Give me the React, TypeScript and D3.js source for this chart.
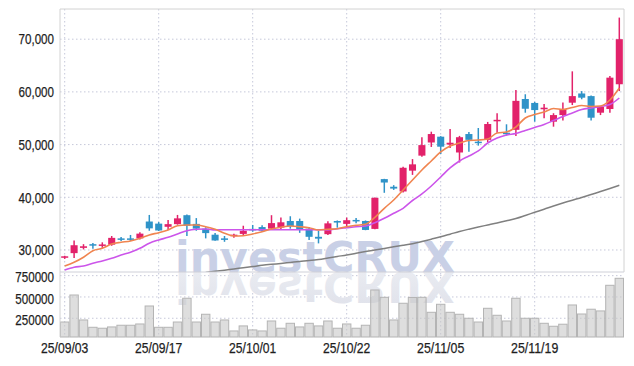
import React from 'react';
import * as d3 from 'd3';

const DATES = [
  '25/09/03', '25/09/04', '25/09/05', '25/09/08', '25/09/09', '25/09/10', '25/09/11', '25/09/12', '25/09/15', '25/09/16',
  '25/09/17', '25/09/18', '25/09/19', '25/09/22', '25/09/23', '25/09/24', '25/09/25', '25/09/26', '25/09/29', '25/09/30',
  '25/10/01', '25/10/02', '25/10/10', '25/10/13', '25/10/14', '25/10/15', '25/10/16', '25/10/17', '25/10/20', '25/10/21',
  '25/10/22', '25/10/23', '25/10/24', '25/10/27', '25/10/28', '25/10/29', '25/10/30', '25/10/31', '25/11/03', '25/11/04',
  '25/11/05', '25/11/06', '25/11/07', '25/11/10', '25/11/11', '25/11/12', '25/11/13', '25/11/14', '25/11/17', '25/11/18',
  '25/11/19', '25/11/20', '25/11/21', '25/11/24', '25/11/25', '25/11/26', '25/11/27', '25/11/28', '25/12/01', '25/12/02',
];

const OPEN = [
  28600, 29400, 30400, 31100, 30850, 31000, 32200, 32200, 32200, 35400,
  35000, 34400, 34900, 36600, 34950, 34050, 32900, 32200, 32650, 33050,
  34000, 34350, 34050, 34250, 35500, 35500, 34050, 32500, 33000, 35500,
  34950, 35700, 35500, 34000, 43450, 42000, 41100, 45050, 47900, 50400,
  51500, 50000, 48500, 52000, 50550, 50900, 54500, 52250, 52800, 58650,
  57900, 56700, 54350, 55600, 57950, 59700, 59200, 56050, 56750, 61450,
];
const HIGH = [
  28900, 31800, 31100, 31300, 31450, 32650, 32450, 32850, 33350, 36650,
  35300, 35700, 36650, 36750, 36050, 34300, 33200, 32650, 33100, 34600,
  34750, 34700, 36600, 36150, 36400, 35950, 34350, 33650, 35450, 35600,
  36150, 36050, 35600, 39950, 43500, 42300, 45800, 47250, 51400, 52450,
  51600, 52950, 51650, 52400, 53150, 54300, 55950, 53850, 60350, 59550,
  58100, 57700, 55950, 58000, 63900, 60150, 59300, 57300, 63000, 74100,
];
const LOW = [
  28300, 28500, 30100, 30250, 30400, 30800, 31700, 31700, 32000, 33650,
  33600, 33800, 34800, 32650, 33650, 32200, 31750, 31550, 32330, 32650,
  33450, 33450, 33800, 33900, 34040, 33250, 31900, 31250, 32850, 34230,
  34400, 35050, 33750, 33950, 40850, 41400, 40900, 44250, 47700, 49550,
  48200, 49350, 46600, 48650, 49800, 50450, 52250, 51700, 51650, 56050,
  54350, 55000, 53400, 54550, 57500, 58600, 54550, 55600, 56050, 60150,
];
const CLOSE = [
  28800, 30900, 30700, 30850, 31050, 32300, 31950, 32050, 33100, 34100,
  33700, 34900, 36000, 34600, 34050, 33200, 31800, 31950, 32900, 33650,
  33800, 33650, 35100, 35250, 34500, 33800, 32500, 32150, 35050, 35200,
  35650, 35500, 33800, 39900, 42800, 41650, 45600, 46250, 49900, 52000,
  49600, 50350, 51400, 50900, 50400, 53900, 54700, 52000, 58300, 56800,
  56550, 57000, 55600, 56700, 59200, 58900, 55100, 57200, 62700, 70000,
];
const VOLUME = [
  206000, 523000, 230000, 144000, 133000, 148000, 168000, 168000, 183000, 394000,
  144000, 144000, 206000, 485000, 206000, 297000, 206000, 230000, 101000, 160000,
  113000, 101000, 218000, 133000, 191000, 148000, 191000, 160000, 218000, 133000,
  183000, 133000, 168000, 582000, 496000, 230000, 426000, 494000, 496000, 320000,
  414000, 320000, 297000, 250000, 206000, 367000, 285000, 218000, 485000, 250000,
  250000, 191000, 156000, 180000, 406000, 300000, 356000, 336000, 637000, 719000,
];

const MA5 = [
  26960, 27670, 28620, 29870, 30320, 31140, 31460, 31710, 32220, 32850,
  33280, 33800, 34610, 34740, 34740, 34420, 33930, 33170, 32660, 32710,
  33040, 33470, 33990, 34310, 34550, 34420, 34230, 33800, 33930, 34040,
  34420, 34690, 34880, 36200, 37910, 39490, 41390, 43280, 45180, 46890,
  48600, 49730, 50300, 50780, 50870, 51060, 52200, 52390, 53340, 55050,
  55710, 56190, 56850, 56660, 57040, 57420, 57230, 57320, 58460, 60740,
];
const MA10 = [
  26200, 26720, 26960, 27480, 27910, 28420, 29050, 29560, 30320, 31270,
  31900, 32410, 33040, 33660, 33930, 33990, 33800, 33850, 33850, 33850,
  33850, 33850, 33850, 33850, 33850, 33850, 33850, 33850, 33800, 34040,
  34230, 34420, 34550, 35180, 36010, 36960, 37910, 39390, 40630, 42140,
  43850, 45560, 46890, 47840, 48790, 50300, 51250, 51820, 52110, 52680,
  53240, 53810, 54570, 55330, 56000, 56660, 56950, 57230, 57610, 58840,
];
const MA60: (number | null)[] = [
  null, null, null, null, null, null, null, null, null, null,
  null, null, null, null, null, 25730, 25960, 26170, 26400, 26620,
  26850, 27080, 27270, 27440, 27630, 27820, 27990, 28200, 28480, 28770,
  29050, 29370, 29700, 30000, 30300, 30610, 30890, 31200, 31610, 32050,
  32500, 33000, 33510, 33950, 34360, 34740, 35120, 35540, 35980, 36550,
  37150, 37740, 38350, 38920, 39450, 39960, 40530, 41080, 41670, 42280,
];

const PRICE_TICKS = [30000, 40000, 50000, 60000, 70000];
const VOLUME_TICKS = [250000, 500000, 750000];
const DATE_TICKS = ['25/09/03', '25/09/17', '25/10/01', '25/10/22', '25/11/05', '25/11/19'];

const W = 634;
const H = 366;
const LEFT = 60;
const RIGHT = 624;
const TOP = 9;
const SPLIT = 272;
const BOTTOM = 337;

const UP = '#e2226a';
const DOWN = '#2f93c8';
const FONT = "'Liberation Sans', Arial, sans-serif";
const GRID = '#c6c8da';

// narrow look: squeeze Liberation Sans to the label widths seen in the chart
const narrow = (s: string) => s.length * 6.45 - (s.match(/[,/]/g)?.length ?? 0) * 3.2;

export default function App() {
  const x = d3.scaleBand<string>().domain(DATES).range([LEFT, RIGHT]).paddingInner(0.25).paddingOuter(0.125);
  const xv = d3.scaleBand<string>().domain(DATES).range([LEFT, RIGHT]).padding(0);
  const cx = (d: string) => x(d)! + x.bandwidth() / 2;
  const y = d3.scaleLinear().domain([25820, 75730]).range([SPLIT, TOP]);
  const yv = d3.scaleLinear().domain([30000, 793000]).range([BOTTOM, SPLIT]);

  const maLine = d3
    .line<number | null>()
    .defined(v => v != null)
    .x((_, i) => cx(DATES[i]))
    .y(v => y(v as number))
    .curve(d3.curveMonotoneX);

  const label = {
    fontFamily: FONT,
    fontSize: 15,
    fill: '#1e1e1e',
    stroke: '#1e1e1e',
    strokeWidth: 0.25,
    lengthAdjust: 'spacingAndGlyphs' as const,
  };

  return (
    <svg width={W} height={H} style={{ position: 'absolute', left: 0, top: 0, background: '#fff' }}>
      <defs>
        <clipPath id="main-clip">
          <rect x={LEFT} y={TOP} width={RIGHT - LEFT} height={SPLIT - TOP} />
        </clipPath>
        <linearGradient id="refl" x1="0" y1="0" x2="0" y2="1">
          <stop offset="0%" stopColor="#dfe1ea" />
          <stop offset="100%" stopColor="#eceef3" />
        </linearGradient>
      </defs>

      {/* grid */}
      {DATE_TICKS.map(d => (
        <line key={d} x1={cx(d)} x2={cx(d)} y1={TOP} y2={BOTTOM} stroke={GRID} strokeDasharray="1.5,2.5" />
      ))}
      {PRICE_TICKS.map(t => (
        <line key={t} x1={LEFT} x2={RIGHT} y1={y(t)} y2={y(t)} stroke={GRID} strokeDasharray="1.5,2.5" />
      ))}
      {VOLUME_TICKS.map(t => (
        <line key={t} x1={LEFT} x2={RIGHT} y1={yv(t)} y2={yv(t)} stroke={GRID} strokeDasharray="1.5,2.5" />
      ))}

      {/* watermark + reflection */}
      <text x={175} y={SPLIT} fontFamily="'DejaVu Sans', sans-serif" fontWeight="bold" fontSize={42}
        textLength={280} lengthAdjust="spacingAndGlyphs" fill="#c9d0e6">investCRUX</text>
      <g transform={`translate(0,${SPLIT * 2}) scale(1,-1)`}>
        <text x={175} y={SPLIT} fontFamily="'DejaVu Sans', sans-serif" fontWeight="bold" fontSize={42}
          textLength={280} lengthAdjust="spacingAndGlyphs" fill="url(#refl)">investCRUX</text>
      </g>

      {/* volume */}
      {DATES.map((d, i) => (
        <rect key={d} x={xv(d)! + 0.5} y={yv(VOLUME[i])} width={xv.bandwidth() - 1} height={BOTTOM - yv(VOLUME[i])}
          fill="rgba(200,200,200,0.6)" stroke="#b4b4b4" strokeWidth={1} />
      ))}

      {/* candles + moving averages */}
      <g clipPath="url(#main-clip)">
        <path d={maLine(MA60) ?? ''} fill="none" stroke="#808080" strokeWidth={1.5} />
        {DATES.map((d, i) => {
          const up = CLOSE[i] >= OPEN[i];
          const c = up ? UP : DOWN;
          const top = y(Math.max(OPEN[i], CLOSE[i]));
          const bot = y(Math.min(OPEN[i], CLOSE[i]));
          return (
            <g key={d}>
              <line x1={cx(d)} x2={cx(d)} y1={y(HIGH[i])} y2={y(LOW[i])} stroke={c} strokeWidth={1.5} />
              <rect x={x(d)!} y={top} width={x.bandwidth()} height={Math.max(1.5, bot - top)} fill={c} />
            </g>
          );
        })}
        <path d={maLine(MA10) ?? ''} fill="none" stroke="#cc55ea" strokeWidth={1.6} />
        <path d={maLine(MA5) ?? ''} fill="none" stroke="#f08550" strokeWidth={1.6} />
      </g>

      {/* frame */}
      <line x1={LEFT} x2={RIGHT} y1={TOP} y2={TOP} stroke="#d2d2d2" />
      <line x1={LEFT} x2={LEFT} y1={TOP} y2={BOTTOM} stroke="#d2d2d2" />
      <line x1={RIGHT} x2={RIGHT} y1={TOP} y2={SPLIT} stroke="#d2d2d2" />
      <line x1={LEFT} x2={RIGHT} y1={SPLIT} y2={SPLIT} stroke="#cfd0d8" />

      {/* labels */}
      {PRICE_TICKS.map(t => {
        const s = d3.format(',')(t);
        return (
          <text key={t} x={54} y={y(t)} dy="0.35em" textAnchor="end" textLength={narrow(s)} {...label}>{s}</text>
        );
      })}
      {VOLUME_TICKS.map(t => {
        const s = String(t);
        return (
          <text key={t} x={54} y={yv(t) + 1.5} dy="0.35em" textAnchor="end" textLength={narrow(s)} {...label}>{s}</text>
        );
      })}
      {DATE_TICKS.map(d => (
        <text key={d} x={cx(d)} y={348} dy="0.35em" textAnchor="middle" textLength={narrow(d) + 2} {...label}>{d}</text>
      ))}
    </svg>
  );
}
